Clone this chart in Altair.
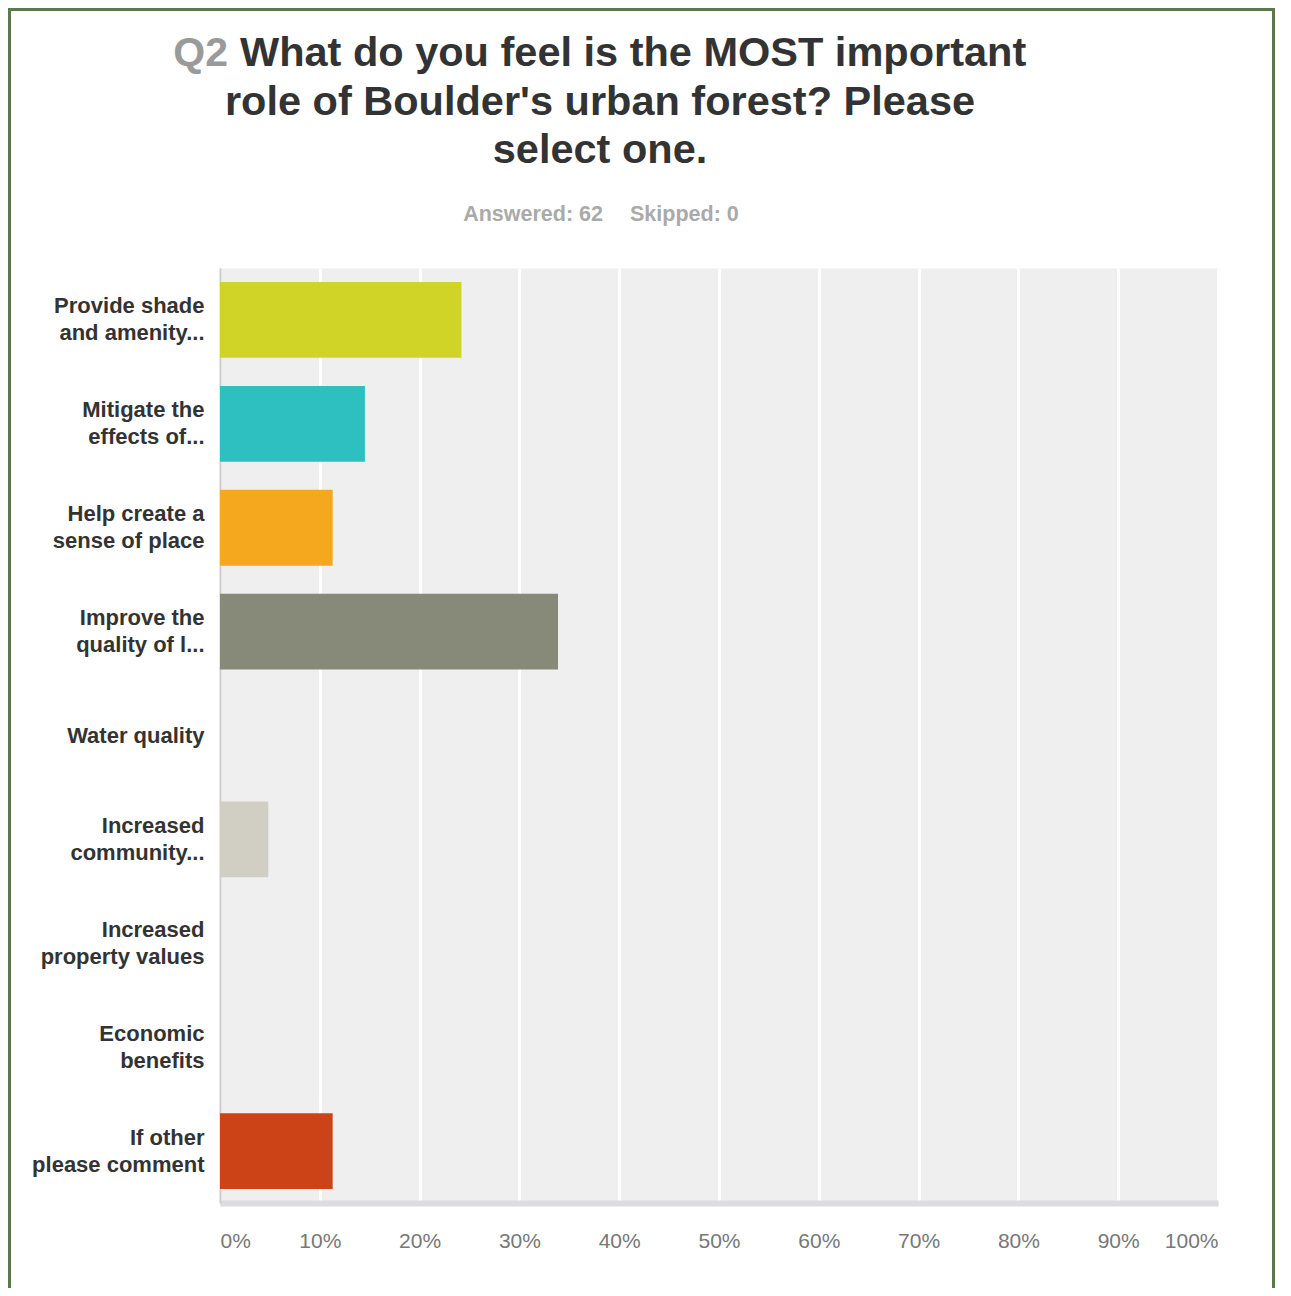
import altair as alt
import pandas as pd

# ---- data ----
categories = [
    "Provide shade\nand amenity...",
    "Mitigate the\neffects of...",
    "Help create a\nsense of place",
    "Improve the\nquality of l...",
    "Water quality",
    "Increased\ncommunity...",
    "Increased\nproperty values",
    "Economic\nbenefits",
    "If other\nplease comment",
]
percents = [0.2419, 0.1452, 0.1129, 0.3387, 0.0, 0.0484, 0.0, 0.0, 0.1129]
bar_colors = ["#cfd426", "#2ebfc1", "#f5a81d", "#878a78", "#6b8fc9",
              "#d1cfc4", "#9e6fb5", "#5fa85a", "#cc4317"]
x_ticks = [0.0, 0.1, 0.2, 0.3, 0.4, 0.5, 0.6, 0.7, 0.8, 0.9, 1.0]

title_prefix = "Q2"
title_lines = ["What do you feel is the MOST important",
               "role of Boulder's urban forest? Please",
               "select one."]
answered = 62
skipped = 0

FONT = "Liberation Sans"
W, H = 998, 935

df = pd.DataFrame({"answer": categories, "pct": percents})

bars = alt.Chart(df).mark_bar().encode(
    x=alt.X("pct:Q",
            scale=alt.Scale(domain=[0, 1], nice=False),
            axis=alt.Axis(values=x_ticks, format=".0%", title=None,
                          labelFlush=True, labelFont=FONT, labelFontSize=21,
                          labelColor="#777777", labelPadding=27, ticks=False,
                          domainColor="#dcdce2", domainWidth=6,
                          grid=True, gridColor="#ffffff", gridWidth=3)),
    y=alt.Y("answer:N", sort=categories,
            scale=alt.Scale(paddingInner=0.27, paddingOuter=0.135),
            axis=alt.Axis(title=None, ticks=False, grid=False,
                          labelExpr="split(datum.label, '\\n')",
                          labelOffset={"condition": {"test": "indexof(datum.label, '\\n') >= 0",
                                                     "value": -13.5},
                                       "value": 0},
                          labelFont=FONT, labelFontSize=22, labelFontWeight="bold",
                          labelColor="#333333", labelLineHeight=27,
                          labelPadding=16, labelLimit=400,
                          domainColor="#cccccc", domainWidth=2)),
    color=alt.Color("answer:N", scale=alt.Scale(domain=categories, range=bar_colors),
                    legend=None),
)

def text_layer(txt, x, y, align, color, size, weight="bold"):
    d = pd.DataFrame({"t": [txt]})
    return alt.Chart(d).mark_text(
        align=align, baseline="alphabetic", font=FONT, fontSize=size,
        fontWeight=weight, color=color
    ).encode(text="t:N", x=alt.value(x), y=alt.value(y))

t_q = text_layer(title_prefix, 8, -202, "right", "#9a9a9a", 41)
t_1 = text_layer(title_lines[0], 20, -202, "left", "#333333", 41.5)
t_2 = text_layer(title_lines[1], 380, -153, "center", "#333333", 41.5)
t_3 = text_layer(title_lines[2], 380, -105, "center", "#333333", 41.5)
s_a = text_layer(f"Answered: {answered}", 383, -47, "right", "#aaaaaa", 21.5)
s_s = text_layer(f"Skipped: {skipped}", 410, -47, "left", "#aaaaaa", 21.5)

border_df = pd.DataFrame({"k": [1]})
BORDER = "#5b7a4b"
b_top = alt.Chart(border_df).mark_rule(color=BORDER, strokeWidth=3).encode(
    x=alt.value(-212), x2=alt.value(1055), y=alt.value(-258.5))
b_left = alt.Chart(border_df).mark_rule(color=BORDER, strokeWidth=3).encode(
    x=alt.value(-210.5), y=alt.value(-260), y2=alt.value(1020))
b_right = alt.Chart(border_df).mark_rule(color=BORDER, strokeWidth=3).encode(
    x=alt.value(1053.5), y=alt.value(-260), y2=alt.value(1020))

chart = alt.layer(bars, t_q, t_1, t_2, t_3, s_a, s_s, b_top, b_left, b_right).properties(
    width=W, height=H,
    autosize=alt.AutoSizeParams(type="none"),
    padding={"left": 212, "top": 260, "right": 65, "bottom": 85},
    background="#ffffff",
).configure_view(fill="#efefef", strokeOpacity=0)

chart.save("out.html", embed_options={"renderer": "svg", "actions": False})
